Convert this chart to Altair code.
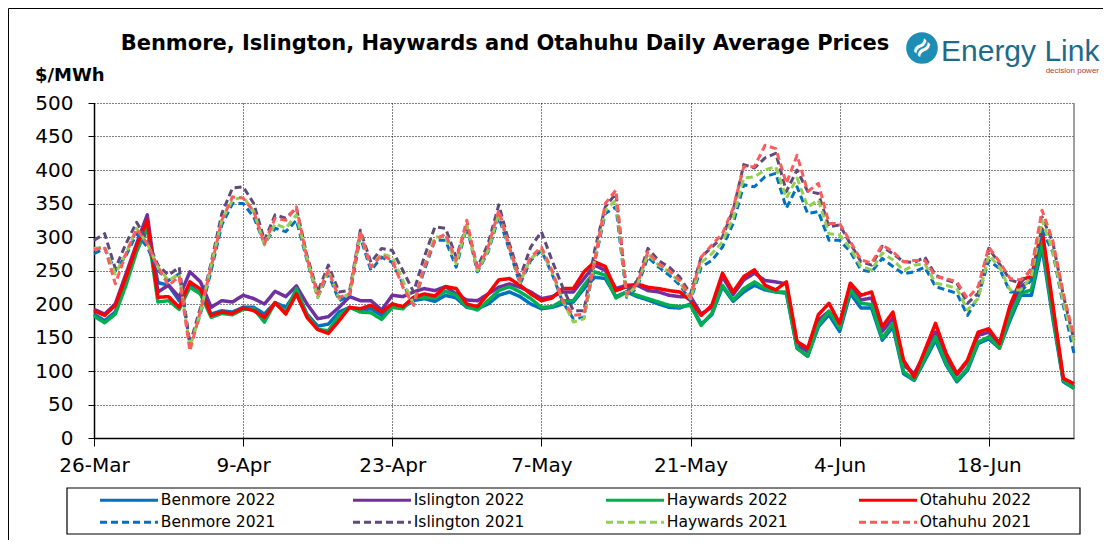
import json
import pandas as pd
import altair as alt

# ---------------- data ----------------
TICK_DAYS = [0, 14, 28, 42, 56, 70, 84]
TICK_LABELS = ["26-Mar", "9-Apr", "23-Apr", "7-May", "21-May", "4-Jun", "18-Jun"]
Y_TICKS = [0, 50, 100, 150, 200, 250, 300, 350, 400, 450, 500]

SERIES = ["Benmore 2022", "Islington 2022", "Haywards 2022", "Otahuhu 2022",
          "Benmore 2021", "Islington 2021", "Haywards 2021", "Otahuhu 2021"]

BEN22 = [185, 175, 188, 233, 280, 313, 232, 228, 205, 228,
         215, 185, 190, 188, 195, 195, 185, 202, 195, 218,
         185, 167, 170, 188, 195, 190, 193, 183, 200, 195,
         205, 208, 204, 213, 209, 195, 193, 200, 213, 218,
         211, 200, 193, 195, 200, 203, 223, 240, 238, 211,
         218, 211, 206, 200, 195, 194, 200, 170, 184, 226,
         204, 218, 228, 221, 218, 216, 134, 122, 166, 184,
         159, 216, 194, 194, 146, 166, 96, 86, 116, 146,
         109, 84, 101, 141, 148, 134, 176, 213, 213, 285,
         180, 84, 74]
ISL22 = [192, 185, 200, 245, 290, 333, 218, 228, 210, 248,
         233, 195, 205, 203, 213, 208, 200, 219, 211, 227,
         200, 178, 181, 195, 211, 205, 205, 191, 213, 211,
         218, 223, 220, 226, 215, 206, 205, 215, 225, 230,
         225, 218, 208, 211, 218, 218, 238, 258, 250, 223,
         228, 228, 220, 218, 213, 211, 211, 185, 195, 241,
         214, 236, 246, 235, 233, 230, 139, 129, 176, 189,
         166, 226, 206, 209, 159, 179, 109, 96, 126, 158,
         119, 94, 114, 153, 158, 139, 193, 226, 236, 305,
         195, 86, 76]
HAY22 = [182, 172, 185, 228, 278, 315, 203, 205, 192, 225,
         215, 180, 186, 184, 192, 193, 173, 202, 188, 223,
         183, 162, 160, 183, 195, 188, 187, 177, 195, 193,
         210, 210, 209, 219, 213, 196, 191, 205, 220, 226,
         218, 208, 195, 196, 205, 205, 228, 248, 243, 209,
         218, 213, 208, 203, 198, 196, 198, 168, 186, 228,
         206, 223, 233, 223, 218, 218, 134, 122, 169, 189,
         164, 221, 201, 199, 149, 171, 99, 87, 119, 151,
         111, 86, 104, 143, 151, 134, 181, 216, 221, 293,
         185, 86, 74]
OTA22 = [190, 183, 198, 240, 287, 325, 210, 211, 195, 233,
         222, 183, 188, 186, 194, 190, 180, 202, 185, 215,
         180, 162, 156, 175, 195, 193, 198, 188, 200, 196,
         210, 215, 212, 226, 223, 200, 196, 215, 236, 238,
         228, 215, 205, 209, 223, 223, 248, 263, 256, 220,
         226, 230, 225, 223, 220, 218, 205, 183, 198, 246,
         218, 241, 251, 228, 221, 233, 144, 134, 184, 201,
         171, 231, 213, 218, 166, 188, 116, 91, 131, 171,
         126, 96, 116, 158, 163, 141, 198, 236, 241, 312,
         200, 89, 81]
BEN21 = [275, 283, 250, 272, 305, 285, 250, 235, 245, 140,
         185, 250, 318, 350, 350, 330, 290, 313, 308, 325,
         265, 210, 245, 205, 212, 300, 250, 270, 262, 230,
         200, 250, 295, 295, 255, 315, 248, 278, 330, 280,
         230, 265, 280, 245, 203, 178, 180, 262, 335, 345,
         210, 225, 270, 255, 243, 228, 205, 255, 265, 285,
         320, 378, 375, 390, 395, 343, 375, 335, 338, 295,
         295, 278, 251, 248, 268, 256, 245, 248, 255, 226,
         221, 216, 183, 211, 265, 253, 218, 218, 236, 310,
         278, 198, 126]
ISL21 = [295, 305, 253, 290, 322, 295, 258, 243, 255, 140,
         195, 262, 335, 373, 375, 350, 295, 333, 328, 343,
         272, 218, 258, 218, 220, 310, 262, 283, 280, 250,
         218, 270, 315, 313, 270, 318, 255, 290, 348, 290,
         240, 285, 308, 265, 225, 190, 190, 280, 345, 365,
         218, 235, 283, 265, 255, 240, 215, 270, 285, 300,
         340, 408, 403, 418, 425, 368, 400, 368, 365, 315,
         318, 290, 263, 258, 286, 275, 263, 262, 270, 243,
         236, 231, 201, 216, 283, 260, 236, 231, 253, 330,
         293, 213, 146]
HAY21 = [283, 285, 245, 275, 313, 290, 255, 235, 245, 135,
         188, 258, 325, 355, 360, 338, 288, 320, 313, 333,
         268, 210, 250, 208, 215, 305, 255, 275, 270, 235,
         200, 255, 300, 300, 260, 318, 250, 280, 335, 283,
         232, 268, 280, 248, 205, 173, 178, 265, 340, 355,
         212, 228, 275, 258, 248, 232, 208, 262, 275, 293,
         328, 388, 390, 400, 405, 358, 388, 345, 355, 305,
         303, 283, 256, 251, 276, 266, 250, 258, 260, 231,
         228, 223, 191, 208, 273, 255, 221, 221, 241, 325,
         280, 203, 141]
OTA21 = [281, 285, 230, 275, 312, 290, 255, 228, 241, 130,
         190, 255, 325, 360, 358, 338, 290, 328, 325, 345,
         268, 215, 250, 210, 215, 308, 255, 273, 265, 225,
         198, 255, 295, 305, 265, 325, 250, 285, 340, 285,
         235, 270, 285, 250, 205, 183, 185, 265, 350, 370,
         215, 230, 278, 260, 250, 235, 210, 270, 288, 305,
         343, 405, 405, 437, 432, 380, 422, 368, 380, 320,
         320, 293, 266, 261, 288, 278, 263, 265, 265, 241,
         238, 233, 208, 226, 285, 263, 238, 236, 251, 340,
         295, 216, 151]

VALUES = [BEN22, ISL22, HAY22, OTA22, BEN21, ISL21, HAY21, OTA21]

TITLE = "Benmore, Islington, Haywards and Otahuhu Daily Average Prices"
Y_TITLE = "$/MWh"
LOGO = "Energy Link"
LOGO_SUB = "decision power"

# ---------------- styles ----------------
COLORS = ["#0070C0", "#7030A0", "#00B050", "#FF0000",
          "#0070C0", "#604A7B", "#92D050", "#FF5B5B"]
DASHES = [[1, 0], [1, 0], [1, 0], [1, 0], [7, 4], [7, 4], [7, 4], [7, 4]]
FONT = "DejaVu Sans"
W, H = 980, 335

rows = []
for name, vals in zip(SERIES, VALUES):
    for d, v in enumerate(vals):
        rows.append({"day": d, "series": name, "value": v})
df = pd.DataFrame(rows)

label_expr = f"{json.dumps(TICK_LABELS)}[indexof({json.dumps(TICK_DAYS)}, datum.value)]"

x_enc = alt.X(
    "day:Q",
    scale=alt.Scale(domain=[0, len(BEN22) - 1], nice=False, zero=False),
    axis=alt.Axis(values=TICK_DAYS, labelExpr=label_expr, title=None,
                  grid=True, gridColor="black", gridDash=[1, 2], gridWidth=1,
                  tickSize=8, tickColor="black", domainColor="black", domainWidth=1.5,
                  labelFont=FONT, labelFontSize=20, labelColor="black", labelPadding=9,
                  labelFlush=False, labelOverlap=False),
)
y_enc = alt.Y(
    "value:Q",
    scale=alt.Scale(domain=[0, 500], nice=False),
    axis=alt.Axis(values=Y_TICKS, title=None,
                  grid=True, gridColor="black", gridDash=[1, 2], gridWidth=1,
                  tickSize=6, tickColor="black", domainColor="black", domainWidth=1.5,
                  labelFont=FONT, labelFontSize=20, labelColor="black", labelPadding=15,
                  labelOverlap=False),
)

legend = alt.Legend(
    title=None, orient="none", direction="horizontal", legendX=6, legendY=389, columns=4,
    symbolType="M-8,0H8", symbolSize=52.56, symbolStrokeWidth=3,
    symbolOffset=21.25, labelOffset=24, gridAlign="all",
    columnPadding=65, rowPadding=5.5, padding=0,
    labelFont=FONT, labelFontSize=15.5, labelColor="black", labelLimit=300,
)
color_enc = alt.Color("series:N", scale=alt.Scale(domain=SERIES, range=COLORS), legend=legend)
dash_enc = alt.StrokeDash("series:N", scale=alt.Scale(domain=SERIES, range=DASHES), legend=legend)

layers = []
for name in SERIES:
    sw = 3.5 if name.endswith("2022") else 3
    layers.append(
        alt.Chart(df)
        .transform_filter(alt.datum.series == name)
        .mark_line(strokeWidth=sw, strokeJoin="round")
        .encode(x=x_enc, y=y_enc, color=color_enc, strokeDash=dash_enc)
    )

one = pd.DataFrame({"t": [""]})

right_border = alt.Chart(one).mark_rule(color="#808080", strokeWidth=1.5).encode(
    x=alt.value(W), y=alt.value(0), y2=alt.value(H))

outer_border = alt.Chart(one).mark_rect(fillOpacity=0, stroke="black", strokeWidth=1).encode(
    x=alt.value(-85.5), x2=alt.value(1200), y=alt.value(-94.5), y2=alt.value(600))

legend_box = alt.Chart(one).mark_rect(fillOpacity=0, stroke="black", strokeWidth=1.2).encode(
    x=alt.value(-27), x2=alt.value(986), y=alt.value(385), y2=alt.value(431))

title = alt.Chart(pd.DataFrame({"t": [TITLE]})).mark_text(
    font=FONT, fontSize=21, fontWeight="bold", color="black", align="center", baseline="alphabetic"
).encode(text="t:N", x=alt.value(411), y=alt.value(-53))

ytitle = alt.Chart(pd.DataFrame({"t": [Y_TITLE]})).mark_text(
    font=FONT, fontSize=18, fontWeight="bold", color="black", align="left", baseline="alphabetic"
).encode(text="t:N", x=alt.value(-59), y=alt.value(-22))

logo_circle = alt.Chart(one).mark_circle(size=1000, color="#1E8DB5", opacity=1).encode(
    x=alt.value(828), y=alt.value(-55))
logo_swirl = alt.Chart(pd.DataFrame({"t": ["≈"]})).mark_text(
    font=FONT, fontSize=26, fontWeight="bold", color="white", angle=315, align="center", baseline="middle"
).encode(text="t:N", x=alt.value(828), y=alt.value(-55))
logo_text = alt.Chart(pd.DataFrame({"t": [LOGO]})).mark_text(
    font="Liberation Sans", fontSize=30, color="#1D6A8A", align="left", baseline="alphabetic"
).encode(text="t:N", x=alt.value(847), y=alt.value(-42))
logo_sub = alt.Chart(pd.DataFrame({"t": [LOGO_SUB]})).mark_text(
    font="Liberation Sans", fontSize=8, color="#B03A3A", align="right", baseline="alphabetic"
).encode(text="t:N", x=alt.value(1005), y=alt.value(-30))

chart = alt.layer(
    outer_border, legend_box, right_border, *layers,
    title, ytitle, logo_circle, logo_swirl, logo_text, logo_sub,
).properties(
    width=W, height=H,
    autosize=alt.AutoSizeParams(type="none"),
    padding={"left": 86, "top": 95, "right": 29, "bottom": 102},
    background="white",
).configure_view(stroke=None)

chart.save("out.html", embed_options={"renderer": "svg", "actions": False})
